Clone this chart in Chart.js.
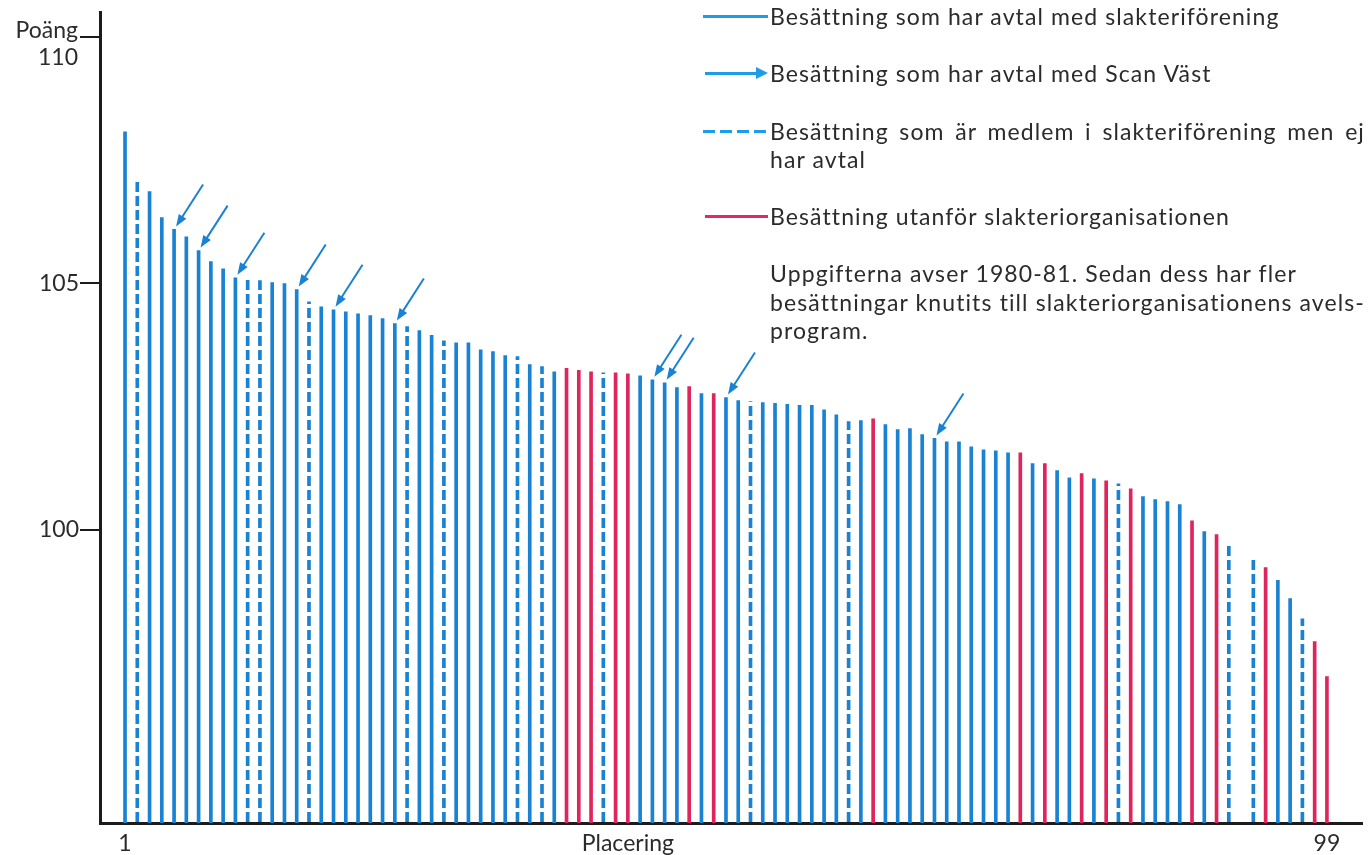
<!DOCTYPE html>
<html lang="sv">
<head>
<meta charset="utf-8">
<title>Poäng per placering</title>
<script src="https://cdn.jsdelivr.net/npm/chart.js@4.4.1/dist/chart.umd.min.js"></script>
<style>
  html, body { margin: 0; padding: 0; background: #fff; }
  #wrap { position: relative; width: 1371px; height: 855px; font-family: Lato, "Open Sans", sans-serif; color: #2b2b2b; }
  #wrap canvas { position: absolute; left: 0; top: 0; }
  .txt { position: absolute; left: 770px; font-size: 23px; line-height: 26px; letter-spacing: 1.1px; white-space: nowrap; }
  .just { text-align: justify; text-align-last: justify; white-space: normal; }
  .prov { position: absolute; height: 3px; }
</style>
</head>
<body>
<div id="wrap">
  <canvas id="diagram" width="1371" height="855"></canvas>

  <div class="prov" style="left:703px; top:15px; width:65px; background:#1f9ce8;"></div>
  <div class="txt" style="top:3px;">Besättning som har avtal med slakteriförening</div>

  <div class="prov" style="left:705px; top:72px; width:52px; background:#1f9ce8;"></div>
  <div style="position:absolute; left:756px; top:67px; width:0; height:0; border-left:12px solid #1f9ce8; border-top:6px solid transparent; border-bottom:6px solid transparent;"></div>
  <div class="txt" style="top:60px;">Besättning som har avtal med Scan Väst</div>

  <div class="prov" style="left:703px; top:130px; width:65px; background:repeating-linear-gradient(90deg, #1f9ce8 0 12px, transparent 12px 17px);"></div>
  <div class="txt just" style="top:118px; width:595px;">Besättning som är medlem i slakteriförening men ej</div>
  <div class="txt" style="top:146px;">har avtal</div>

  <div class="prov" style="left:705px; top:215px; width:63px; background:#e8256a;"></div>
  <div class="txt" style="top:203px;">Besättning utanför slakteriorganisationen</div>

  <div class="txt just" style="top:260px; width:527px;">Uppgifterna avser 1980-81. Sedan dess har fler</div>
  <div class="txt just" style="top:289px; width:595px;">besättningar knutits till slakteriorganisationens avels-</div>
  <div class="txt" style="top:317px;">program.</div>
</div>

<script>
// poäng per placering 1..99 (placering 92 saknas i figuren)
const poang = [
  108.07, 107.10, 106.86, 106.33, 106.09, 105.94, 105.66, 105.44, 105.29, 105.11,
  105.11, 105.05, 105.01, 104.99, 104.87, 104.62, 104.52, 104.46, 104.42, 104.38,
  104.34, 104.28, 104.18, 104.12, 104.04, 103.94, 103.83, 103.79, 103.79, 103.65,
  103.61, 103.53, 103.51, 103.35, 103.31, 103.20, 103.27, 103.23, 103.20, 103.18,
  103.18, 103.16, 103.12, 103.04, 102.98, 102.88, 102.90, 102.76, 102.76, 102.68,
  102.62, 102.60, 102.58, 102.56, 102.54, 102.52, 102.52, 102.43, 102.33, 102.19,
  102.21, 102.25, 102.13, 102.03, 102.05, 101.93, 101.85, 101.78, 101.78, 101.68,
  101.62, 101.60, 101.56, 101.56, 101.34, 101.34, 101.20, 101.05, 101.14, 101.03,
  100.99, 100.93, 100.83, 100.67, 100.61, 100.57, 100.51, 100.18, 99.96, 99.90,
  99.74, null, 99.39, 99.23, 98.97, 98.60, 98.19, 97.73, 97.02
];

// A = avtal med slakteriförening, M = medlem utan avtal, U = utanför
const grupp = [
  'A','M','A','A','A','A','A','A','A','A',
  'M','M','A','A','A','M','A','A','A','A',
  'A','A','A','M','A','A','M','A','A','A',
  'A','A','M','A','M','A','U','U','U','M',
  'U','U','A','A','A','A','U','A','U','A',
  'A','M','A','A','A','A','A','A','A','M',
  'A','U','A','A','A','A','A','A','A','A',
  'A','A','A','U','A','U','A','A','U','A',
  'U','M','U','A','A','A','A','U','A','U',
  'M', null, 'M','U','A','A','M','U','U'
];

// placeringar med pil (avtal med Scan Väst)
const scanVast = [5, 7, 10, 15, 18, 23, 44, 45, 50, 67];

const xTicks = [1, 99];
const xTitel = 'Placering';
const xTitelVid = 42;
const yTicks = [100, 105, 110];
const yTopp = 110;
const yTitel = 'Poäng';

const bla = '#1a82d2';
const rod = '#e0245c';
const typsnitt = 'Lato, "Open Sans", sans-serif';

function punkter(kod) {
  const ut = [];
  poang.forEach((v, i) => {
    if (grupp[i] === kod && v !== null) ut.push({x: i + 1, y: v});
  });
  return ut;
}

function streckat(farg) {
  const c = document.createElement('canvas');
  c.width = 4; c.height = 14;
  const g = c.getContext('2d');
  g.fillStyle = farg;
  g.fillRect(0, 0, 4, 10);
  return g.createPattern(c, 'repeat');
}

const pilar = {
  id: 'pilar',
  afterDatasetsDraw(chart) {
    const {ctx, scales} = chart;
    ctx.save();
    ctx.strokeStyle = bla;
    ctx.fillStyle = bla;
    ctx.lineWidth = 2;
    scanVast.forEach(p => {
      const tx = scales.x.getPixelForValue(p) + 2;
      const ty = scales.y.getPixelForValue(poang[p - 1]) - 3;
      const sx = tx + 27, sy = ty - 42;
      const a = Math.atan2(ty - sy, tx - sx);
      ctx.beginPath();
      ctx.moveTo(sx, sy);
      ctx.lineTo(tx - 8 * Math.cos(a), ty - 8 * Math.sin(a));
      ctx.stroke();
      ctx.beginPath();
      ctx.moveTo(tx, ty);
      ctx.lineTo(tx - 12 * Math.cos(a) + 4.5 * Math.sin(a), ty - 12 * Math.sin(a) - 4.5 * Math.cos(a));
      ctx.lineTo(tx - 12 * Math.cos(a) - 4.5 * Math.sin(a), ty - 12 * Math.sin(a) + 4.5 * Math.cos(a));
      ctx.closePath();
      ctx.fill();
    });
    ctx.restore();
  }
};

// "Poäng" över och "110" under översta skalstrecket
const toppEtikett = {
  id: 'toppEtikett',
  afterDraw(chart) {
    const {ctx, scales} = chart;
    const py = scales.y.getPixelForValue(yTopp);
    const px = scales.y.right - 22;
    ctx.save();
    ctx.font = '23px ' + typsnitt;
    ctx.fillStyle = '#2b2b2b';
    ctx.textAlign = 'right';
    ctx.textBaseline = 'middle';
    ctx.fillText(yTitel, px, py - 6);
    ctx.fillText(String(yTopp), px, py + 21);
    ctx.restore();
  }
};

Chart.defaults.font.family = typsnitt;
Chart.defaults.font.size = 23;
Chart.defaults.color = '#2b2b2b';

const gemensamt = {grouped: false, barThickness: 3, borderWidth: 0};

new Chart(document.getElementById('diagram'), {
  type: 'bar',
  data: {
    datasets: [
      Object.assign({label: 'Besättning som har avtal med slakteriförening', data: punkter('A'), backgroundColor: bla}, gemensamt),
      Object.assign({label: 'Besättning som är medlem i slakteriförening men ej har avtal', data: punkter('M'), backgroundColor: streckat(bla)}, gemensamt),
      Object.assign({label: 'Besättning utanför slakteriorganisationen', data: punkter('U'), backgroundColor: rod}, gemensamt)
    ]
  },
  options: {
    responsive: false,
    animation: false,
    layout: {padding: {top: 12, right: 9, left: 0, bottom: 0}},
    plugins: {legend: {display: false}, tooltip: {enabled: false}},
    scales: {
      x: {
        type: 'linear',
        min: -1.04,
        max: 101.86,
        offset: false,
        grid: {display: false, drawTicks: false, offset: false},
        border: {display: true, width: 3, color: '#1c1c1c'},
        afterBuildTicks: s => { s.ticks = xTicks.concat(xTitelVid).map(v => ({value: v})); },
        afterFit: s => { s.height = 32; s.paddingLeft = 0; s.paddingRight = 0; },
        ticks: {
          padding: 7,
          autoSkip: false,
          maxRotation: 0,
          callback: v => (v === xTitelVid ? xTitel : String(v))
        }
      },
      y: {
        min: 94.05,
        max: 110.5,
        grid: {display: true, drawOnChartArea: false, drawTicks: true, tickLength: 20, color: '#1c1c1c', lineWidth: 2},
        border: {display: true, width: 3, color: '#1c1c1c'},
        afterBuildTicks: s => { s.ticks = yTicks.map(v => ({value: v})); },
        afterFit: s => { s.width = 100; s.paddingTop = 0; s.paddingBottom = 0; },
        ticks: {
          padding: 1,
          autoSkip: false,
          callback: v => (v === yTopp ? '' : String(v))
        }
      }
    }
  },
  plugins: [pilar, toppEtikett]
});
</script>
</body>
</html>
